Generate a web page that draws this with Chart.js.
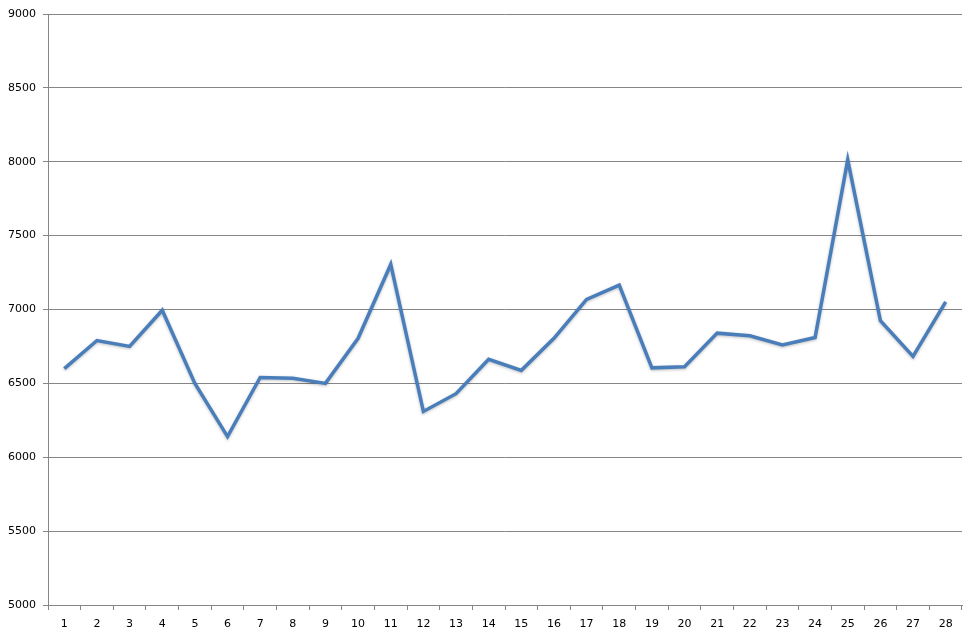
<!DOCTYPE html>
<html>
<head>
<meta charset="utf-8">
<script src="https://cdn.jsdelivr.net/npm/chart.js@4"></script>
<style>
  html, body { margin: 0; padding: 0; background: #fff; }
  #wrap { width: 977px; height: 638px; position: relative; }
</style>
</head>
<body>
<div id="wrap"><canvas id="lineChart"></canvas></div>
<script>
// ─── DATI ─────────────────────────────────────────────────────────
const days = ["1", "2", "3", "4", "5", "6", "7", "8", "9", "10", "11", "12", "13", "14",
  "15", "16", "17", "18", "19", "20", "21", "22", "23", "24", "25", "26", "27", "28"];
const values = [6600, 6790, 6750, 6995, 6500, 6140, 6540, 6535, 6500, 6805, 7305, 6310, 6430, 6663,
  6588, 6805, 7068, 7165, 6605, 6612, 6840, 6822, 6760, 6810, 8013, 6925, 6683, 7052];
const yMin = 5000;
const yMax = 9000;
const yStep = 500;

const gray = "#868686";
const tickFont = { family: "DejaVu Sans", size: 11 };

// ombra leggera sotto la linea
const lineShadow = {
  id: "lineShadow",
  beforeDatasetDraw(chart) {
    const ctx = chart.ctx;
    ctx.save();
    ctx.shadowColor = "rgba(0,0,0,0.25)";
    ctx.shadowBlur = 3;
    ctx.shadowOffsetY = 1;
  },
  afterDatasetDraw(chart) {
    chart.ctx.restore();
  },
};

const ctx = document.getElementById("lineChart").getContext("2d");

new Chart(ctx, {
  type: "line",
  data: {
    labels: days,
    datasets: [
      {
        data: values,
        borderColor: "#4a7ebb",
        borderWidth: 3.5,
        pointRadius: 0,
        tension: 0,
        fill: false,
      },
    ],
  },
  options: {
    responsive: true,
    maintainAspectRatio: false,
    animation: false,
    layout: { padding: { top: 14, right: 15, left: 0, bottom: 0 } },
    plugins: {
      legend: { display: false },
      tooltip: { enabled: false },
    },
    scales: {
      x: {
        offset: true,
        grid: {
          offset: true,
          drawOnChartArea: false,
          drawTicks: true,
          tickLength: 5,
          color: gray,
        },
        border: { color: gray, width: 1 },
        ticks: { color: "#000", font: tickFont, padding: 8, maxRotation: 0, autoSkip: false },
        afterFit: (axis) => { axis.height = 33; },
      },
      y: {
        min: yMin,
        max: yMax,
        grid: { color: gray, tickLength: 5, lineWidth: 1 },
        border: { color: gray, width: 1 },
        ticks: {
          stepSize: yStep,
          color: "#000",
          font: tickFont,
          padding: 7,
          callback: (v) => String(v),
        },
        afterFit: (axis) => { axis.width = 48; },
      },
    },
  },
  plugins: [lineShadow],
});
</script>
</body>
</html>
